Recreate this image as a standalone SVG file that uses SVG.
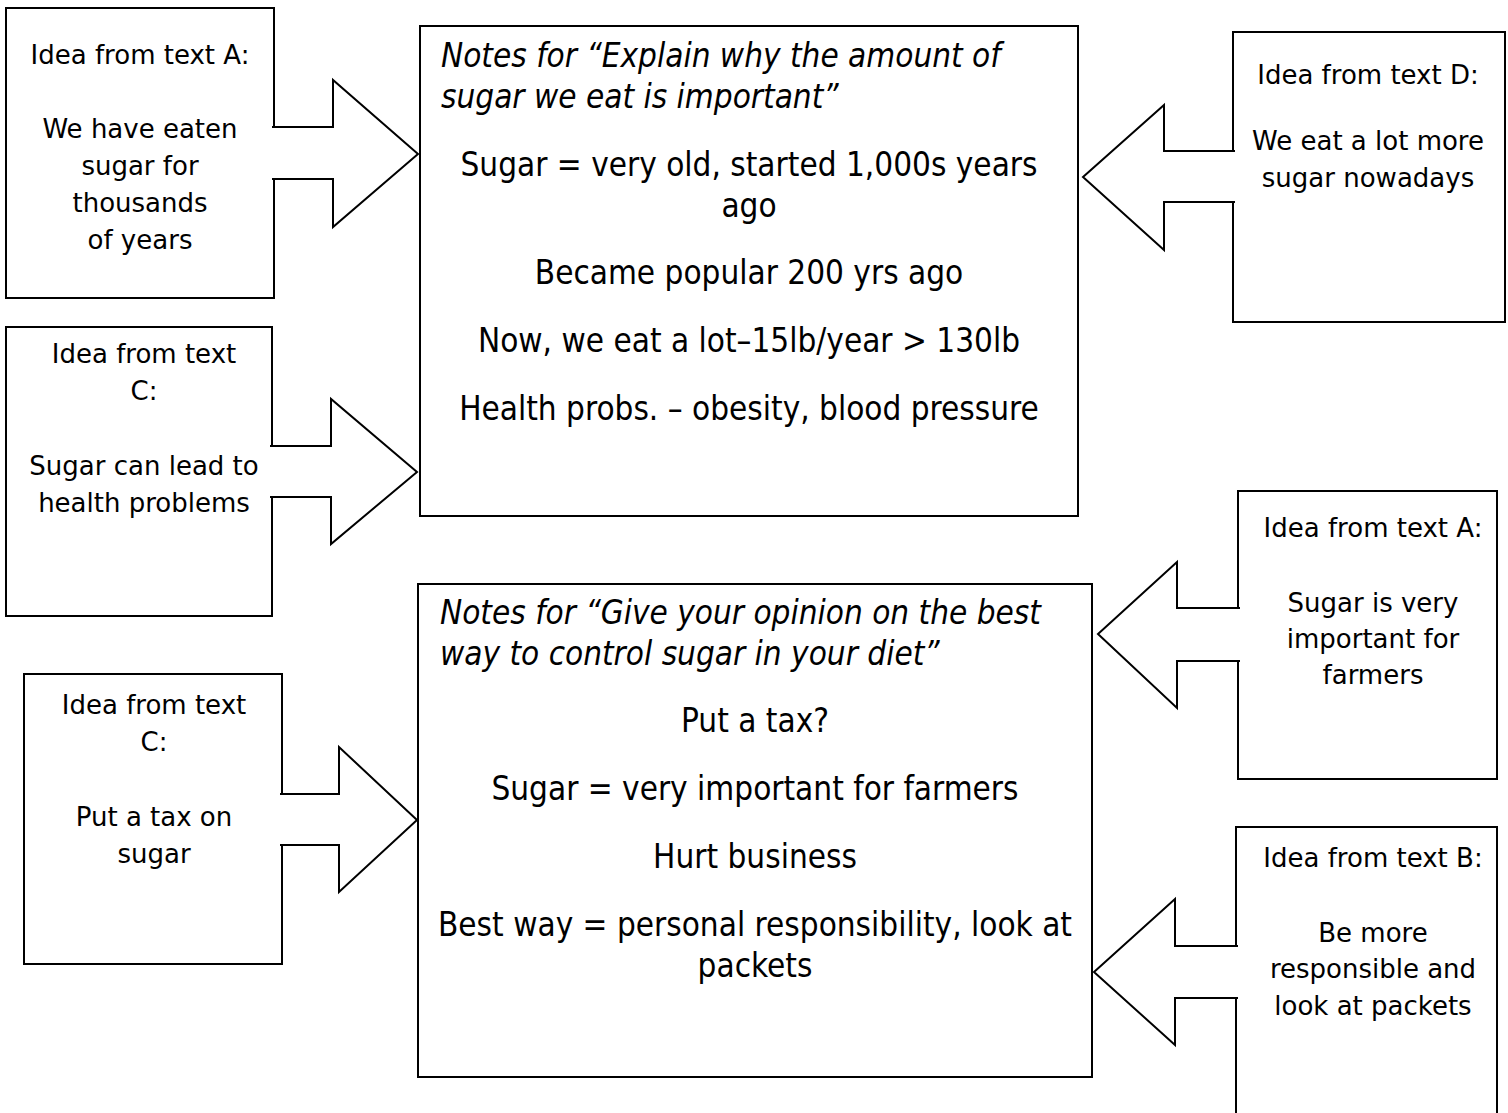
<svg xmlns="http://www.w3.org/2000/svg" width="1508" height="1113" viewBox="0 0 1508 1113">
<style>
.box{fill:#fff;stroke:#000;stroke-width:2}
.arrow{fill:#fff;stroke:#000;stroke-width:2;stroke-linejoin:miter}
.side{font-family:"DejaVu Sans","Verdana",sans-serif;font-size:26px;fill:#000;text-anchor:middle}
.main{font-family:"DejaVu Sans Condensed","DejaVu Sans",sans-serif;font-stretch:condensed;font-size:33px;fill:#000}
.c{text-anchor:middle}
.h{font-style:italic}
</style>
<rect width="1508" height="1113" fill="#fff"/>
<g id="nodes">
  <g id="notes1">
    <rect class="box" x="420" y="26" width="658" height="490"/>
    <text class="main h" x="441" y="67">Notes for “Explain why the amount of</text>
    <text class="main h" x="441" y="108">sugar we eat is important”</text>
    <text class="main c" x="749" y="176">Sugar = very old, started 1,000s years</text>
    <text class="main c" x="749" y="217">ago</text>
    <text class="main c" x="749" y="284">Became popular 200 yrs ago</text>
    <text class="main c" x="749" y="352">Now, we eat a lot–15lb/year &gt; 130lb</text>
    <text class="main c" x="749" y="420">Health probs. – obesity, blood pressure</text>
  </g>
  <g id="notes2">
    <rect class="box" x="418" y="584" width="674" height="493"/>
    <text class="main h" x="440" y="624">Notes for “Give your opinion on the best</text>
    <text class="main h" x="440" y="665">way to control sugar in your diet”</text>
    <text class="main c" x="755" y="732">Put a tax?</text>
    <text class="main c" x="755" y="800">Sugar = very important for farmers</text>
    <text class="main c" x="755" y="868">Hurt business</text>
    <text class="main c" x="755" y="936">Best way = personal responsibility, look at</text>
    <text class="main c" x="755" y="977">packets</text>
  </g>
  <g id="ideaA1">
    <rect class="box" x="6" y="8" width="268" height="290"/>
    <text class="side" x="140" y="64">Idea from text A:</text>
    <text class="side" x="140" y="138">We have eaten</text>
    <text class="side" x="140" y="175">sugar for</text>
    <text class="side" x="140" y="212">thousands</text>
    <text class="side" x="140" y="249">of years</text>
  </g>
  <g id="ideaC1">
    <rect class="box" x="6" y="327" width="266" height="289"/>
    <text class="side" x="144" y="363">Idea from text</text>
    <text class="side" x="144" y="400">C:</text>
    <text class="side" x="144" y="475">Sugar can lead to</text>
    <text class="side" x="144" y="512">health problems</text>
  </g>
  <g id="ideaC2">
    <rect class="box" x="24" y="674" width="258" height="290"/>
    <text class="side" x="154" y="714">Idea from text</text>
    <text class="side" x="154" y="751">C:</text>
    <text class="side" x="154" y="826">Put a tax on</text>
    <text class="side" x="154" y="863">sugar</text>
  </g>
  <g id="ideaD">
    <rect class="box" x="1233" y="32" width="272" height="290"/>
    <text class="side" x="1368" y="84">Idea from text D:</text>
    <text class="side" x="1368" y="150">We eat a lot more</text>
    <text class="side" x="1368" y="187">sugar nowadays</text>
  </g>
  <g id="ideaA2">
    <rect class="box" x="1238" y="491" width="259" height="288"/>
    <text class="side" x="1373" y="537">Idea from text A:</text>
    <text class="side" x="1373" y="612">Sugar is very</text>
    <text class="side" x="1373" y="648">important for</text>
    <text class="side" x="1373" y="684">farmers</text>
  </g>
  <g id="ideaB">
    <rect class="box" x="1236" y="827" width="261" height="300"/>
    <text class="side" x="1373" y="867">Idea from text B:</text>
    <text class="side" x="1373" y="942">Be more</text>
    <text class="side" x="1373" y="978">responsible and</text>
    <text class="side" x="1373" y="1015">look at packets</text>
  </g>
</g>
<g id="connectors">
  <path class="arrow" d="M272,127 H333 V80 L418,154 L333,227 V179 H272"/>
  <path class="arrow" d="M270,446 H331 V399 L417,472 L331,544 V497 H270"/>
  <path class="arrow" d="M280,794 H339 V747 L417,820 L339,892 V845 H280"/>
  <path class="arrow" d="M1235,151 H1164 V105 L1083,177 L1164,250 V202 H1235"/>
  <path class="arrow" d="M1240,608 H1177 V562 L1098,634 L1177,708 V661 H1240"/>
  <path class="arrow" d="M1238,946 H1175 V899 L1094,972 L1175,1045 V998 H1238"/>
</g>
</svg>
